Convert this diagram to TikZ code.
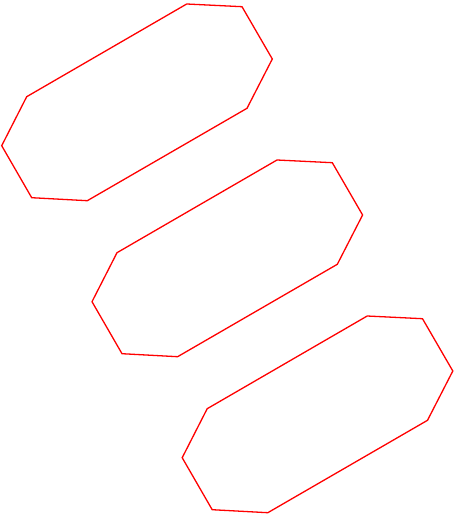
\documentclass[tikz,border=0pt]{standalone}
\definecolor{edge}{HTML}{FF0000}
\tikzset{octagon/.style={draw=edge, line width=1.3pt, line join=miter}}

\begin{document}
\begin{tikzpicture}[x=1pt, y=-1pt]
  \useasboundingbox (0,0) rectangle (462,521);
  \foreach \dx/\dy/\name in {0/0/top,90.3/156/mid,180.5/312/low} {
    \begin{scope}[shift={(\dx,\dy)}]
      \coordinate (\name-a) at (186.7,4);
      \coordinate (\name-b) at (242,6.7);
      \coordinate (\name-c) at (272.3,59);
      \coordinate (\name-d) at (247,108.3);
      \coordinate (\name-e) at (87.3,200.7);
      \coordinate (\name-f) at (31.7,197.7);
      \coordinate (\name-g) at (1.7,145.7);
      \coordinate (\name-h) at (26.7,96.7);
      \draw[octagon] (\name-a) -- (\name-b) -- (\name-c) -- (\name-d)
        -- (\name-e) -- (\name-f) -- (\name-g) -- (\name-h) -- cycle;
    \end{scope}
  }
\end{tikzpicture}
\end{document}
